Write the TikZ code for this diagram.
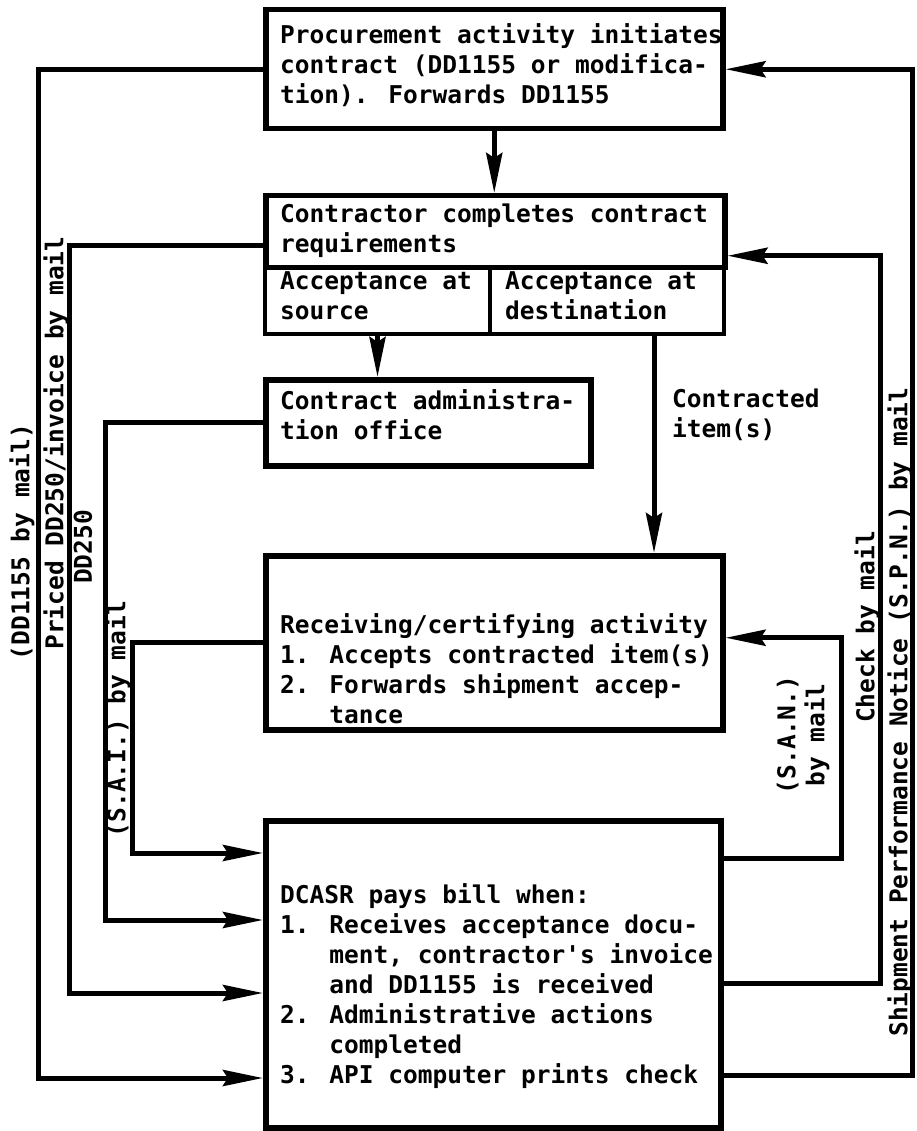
\documentclass[tikz,border=0pt]{standalone}
\usepackage{fontspec}
\newfontfamily\diafont{DejaVu Sans Mono}
\usetikzlibrary{arrows.meta,calc}
\begin{document}
\begin{tikzpicture}[x=1pt,y=-1pt,
  box/.style={draw, line width=5.5pt, inner sep=0pt, anchor=north west},
  txt/.style={font=\diafont\bfseries\fontsize{24.5}{30}\selectfont, align=left, anchor=north west, inner sep=0pt},
  vlbl/.style={font=\diafont\bfseries\fontsize{24.5}{29}\selectfont, rotate=90, inner sep=0pt, align=center},
  wire/.style={line width=5pt},
  arr/.style={wire, -{Stealth[length=40pt,width=16pt,inset=5pt]}}]
\fill[white] (0,0) rectangle (916,1131);
\useasboundingbox (0,0) rectangle (916,1131);

% boxes
\node[box, minimum width=457pt, minimum height=119pt] (top) at (263,7) {};
\node[box, minimum width=459pt, minimum height=72pt] (contr) at (263,193) {};
\node[box, line width=4pt, minimum width=225pt, minimum height=67pt] (src) at (263,265) {};
\node[box, line width=4pt, minimum width=234pt, minimum height=67pt] (dst) at (488,265) {};
\node[box, minimum width=325pt, minimum height=86pt] (admin) at (263,377) {};
\node[box, minimum width=457pt, minimum height=174pt] (recv) at (263,553) {};
\node[box, minimum width=455pt, minimum height=307pt] (pay) at (263,818) {};

% box texts
\node[txt] (ttop) at (280,23) {Procurement activity initiates\\contract (DD1155 or modifica-\\tion). Forwards DD1155};
\node[txt] (tcontr) at (280,204) {Contractor completes contract\\requirements};
\node[txt] (tsrc) at (280,271) {Acceptance at\\source};
\node[txt] (tdst) at (505,271) {Acceptance at\\destination};
\node[txt] (tadmin) at (280,389) {Contract administra-\\tion office};
\node[txt] (titem) at (672,389) {Contracted\\item(s)};
\node[txt] (trecv) at (280,613) {Receiving/certifying activity\\1. Accepts contracted item(s)\\2. Forwards shipment accep-\\\hphantom{2. }tance};
\node[txt] (tpay) at (280,883) {DCASR pays bill when:\\1. Receives acceptance docu-\\\hphantom{1. }ment, contractor's invoice\\\hphantom{1. }and DD1155 is received\\2. Administrative actions\\\hphantom{2. }completed\\3. API computer prints check};

% channel corners
\coordinate (c1) at (38,1078);
\coordinate (c2) at (69,993);
\coordinate (c3) at (105,920);
\coordinate (c4) at (132,853);
\coordinate (c5) at (841,858);
\coordinate (c6) at (880,983);
\coordinate (c7) at (912,1075);

% vertical flow
\draw[arr] (top.south) -- (top.south |- contr.north);
\draw[arr] (src.south) -- (src.south |- admin.north);
\draw[arr] ([xshift=47pt]dst.south) -- ([xshift=47pt]dst.south |- recv.north);

% left connectors
\draw[arr] (top.west) -| (c1) -- (c1 -| pay.west);
\draw[arr] ([yshift=-14pt]contr.west) -| (c2) -- (c2 -| pay.west);
\draw[arr] (admin.west) -| (c3) -- (c3 -| pay.west);
\draw[arr] (recv.west) -| (c4) -- (c4 -| pay.west);

% right connectors
\draw[arr] (c5 -| pay.east) -- (c5) |- ([yshift=5pt]recv.east);
\draw[arr] (c6 -| pay.east) -- (c6) |- ([yshift=-24pt]contr.east);
\draw[arr] (c7 -| pay.east) -- (c7) |- (top.east);

% rotated labels
\node[vlbl] (l1) at (22,542) {(DD1155 by mail)};
\node[vlbl] (l2) at (56,443) {Priced DD250/invoice by mail};
\node[vlbl] (l3) at (83,547) {DD250};
\node[vlbl] (l4) at (118,719) {(S.A.I.) by mail};
\node[vlbl] (l5) at (803,735) {(S.A.N.)\\by mail};
\node[vlbl] (l6) at (867,627) {Check by mail};
\node[vlbl] (l7) at (900,712) {Shipment Performance Notice (S.P.N.) by mail};
\end{tikzpicture}
\end{document}
